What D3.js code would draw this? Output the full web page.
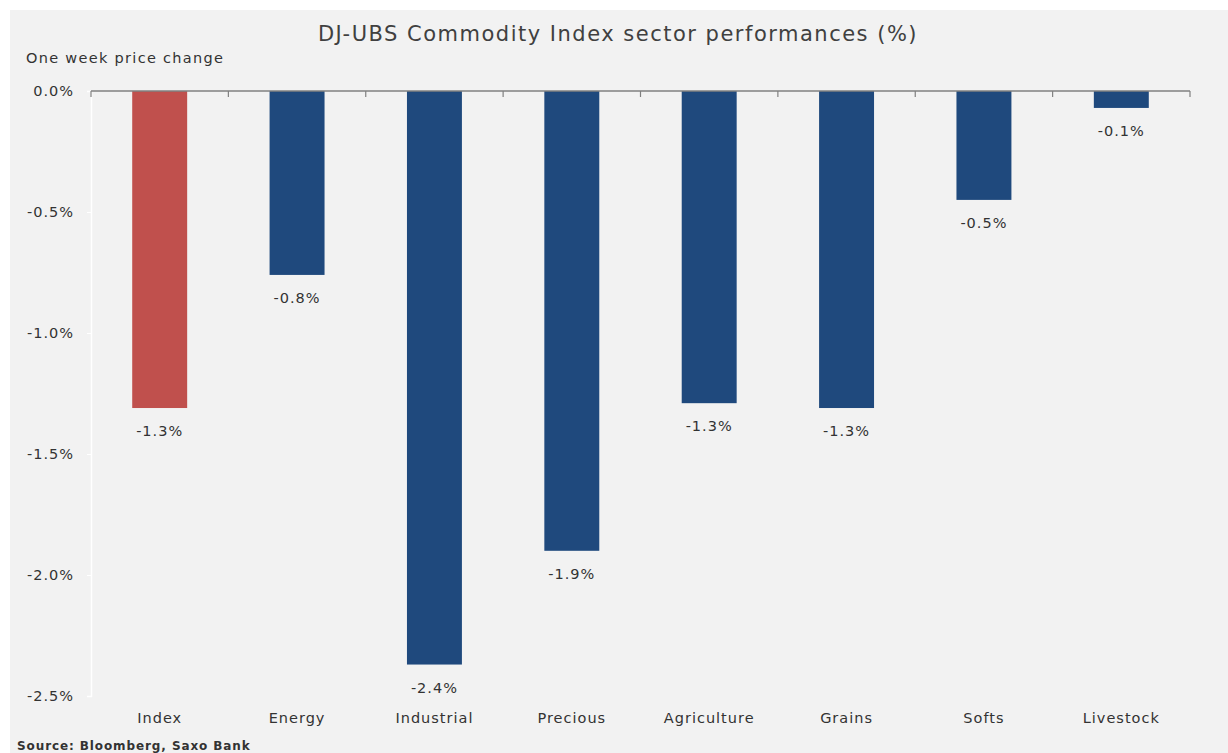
<!DOCTYPE html>
<html>
<head>
<meta charset="utf-8">
<script src="https://cdn.jsdelivr.net/npm/d3@7"></script>
<style>
  body { margin: 0; background: #ffffff; }
  svg { display: block; }
</style>
</head>
<body>
<div id="container"></div>
<script>
// sector performance, one week price change (%)
let categories = ["Index", "Energy", "Industrial", "Precious", "Agriculture", "Grains", "Softs", "Livestock"];
let values = [-1.31, -0.76, -2.37, -1.90, -1.29, -1.31, -0.45, -0.07];
let labels = ["-1.3%", "-0.8%", "-2.4%", "-1.9%", "-1.3%", "-1.3%", "-0.5%", "-0.1%"];
let yTicks = [0, -0.5, -1.0, -1.5, -2.0, -2.5];

let w = 1228;
let h = 753;
let xLeft = 91;
let xRight = 1190;
let yTop = 91;
let yBottom = 696;

let font = "DejaVu Sans, Verdana, sans-serif";
let textColor = "#333333";

let viz = d3.select("#container")
  .append("svg")
    .attr("width", w)
    .attr("height", h)
;

// gray panel
viz.append("rect")
  .attr("x", 10)
  .attr("y", 10)
  .attr("width", w - 10)
  .attr("height", h - 10)
  .attr("fill", "#f2f2f2")
;

let xScale = d3.scaleBand().domain(categories).range([xLeft, xRight]).paddingInner(0.6).paddingOuter(0.3);
let yScale = d3.scaleLinear().domain([0, -2.5]).range([yTop, yBottom]);

// y axis (faint white line)
let yAxisGroup = viz.append("g").attr("class", "yaxis")
  .attr("transform", "translate(" + xLeft + ", 0)");
yAxisGroup.call(d3.axisLeft(yScale).tickValues(yTicks).tickSize(4).tickFormat(function(d){
  return d.toFixed(1) + "%";
}));
yAxisGroup.select(".domain").attr("stroke", "#ffffff").attr("stroke-width", 1.5);
yAxisGroup.selectAll(".tick line").attr("stroke", "#ffffff");
yAxisGroup.selectAll(".tick text")
  .attr("x", -17)
  .attr("fill", textColor)
  .attr("font-family", font)
  .attr("font-size", "14.5px")
  .attr("letter-spacing", "1px")
;

// bars
viz.append("g").selectAll("rect")
  .data(values)
  .enter()
  .append("rect")
    .attr("x", function(d, i){ return xScale(categories[i]); })
    .attr("y", yScale(0))
    .attr("width", xScale.bandwidth())
    .attr("height", function(d){ return yScale(d) - yScale(0); })
    .attr("fill", function(d, i){ return i == 0 ? "#c0504d" : "#1f497d"; })
;

// value labels
viz.append("g").selectAll("text")
  .data(values)
  .enter()
  .append("text")
    .text(function(d, i){ return labels[i]; })
    .attr("x", function(d, i){ return xScale(categories[i]) + xScale.bandwidth() / 2; })
    .attr("y", function(d){ return yScale(d) + 28; })
    .attr("text-anchor", "middle")
    .attr("fill", textColor)
    .attr("font-family", font)
    .attr("font-size", "14.5px")
    .attr("letter-spacing", "1px")
;

// zero line with ticks at category boundaries
let zeroY = yScale(0);
viz.append("line")
  .attr("x1", xLeft).attr("x2", xRight)
  .attr("y1", zeroY).attr("y2", zeroY)
  .attr("stroke", "#808080")
  .attr("stroke-width", 1.5)
;
let step = (xRight - xLeft) / categories.length;
viz.append("g").selectAll("line")
  .data(d3.range(categories.length + 1))
  .enter()
  .append("line")
    .attr("x1", function(d){ return xLeft + d * step; })
    .attr("x2", function(d){ return xLeft + d * step; })
    .attr("y1", zeroY)
    .attr("y2", zeroY + 6)
    .attr("stroke", "#808080")
    .attr("stroke-width", 1.2)
;

// category labels
viz.append("g").selectAll("text")
  .data(categories)
  .enter()
  .append("text")
    .text(function(d){ return d; })
    .attr("x", function(d){ return xScale(d) + xScale.bandwidth() / 2; })
    .attr("y", 723)
    .attr("text-anchor", "middle")
    .attr("fill", textColor)
    .attr("font-family", font)
    .attr("font-size", "14.5px")
    .attr("letter-spacing", "1px")
;

// title
viz.append("text")
  .text("DJ-UBS Commodity Index sector performances (%)")
  .attr("x", 618)
  .attr("y", 41)
  .attr("text-anchor", "middle")
  .attr("fill", "#404040")
  .attr("font-family", font)
  .attr("font-size", "21px")
  .attr("letter-spacing", "1.5px")
;

viz.append("text")
  .text("One week price change")
  .attr("x", 26)
  .attr("y", 63)
  .attr("fill", textColor)
  .attr("font-family", font)
  .attr("font-size", "14.5px")
  .attr("letter-spacing", "1.3px")
;

viz.append("text")
  .text("Source: Bloomberg, Saxo Bank")
  .attr("x", 17)
  .attr("y", 750)
  .attr("fill", textColor)
  .attr("font-family", font)
  .attr("font-size", "12px")
  .attr("font-weight", "bold")
  .attr("letter-spacing", "0.9px")
;
</script>
</body>
</html>
